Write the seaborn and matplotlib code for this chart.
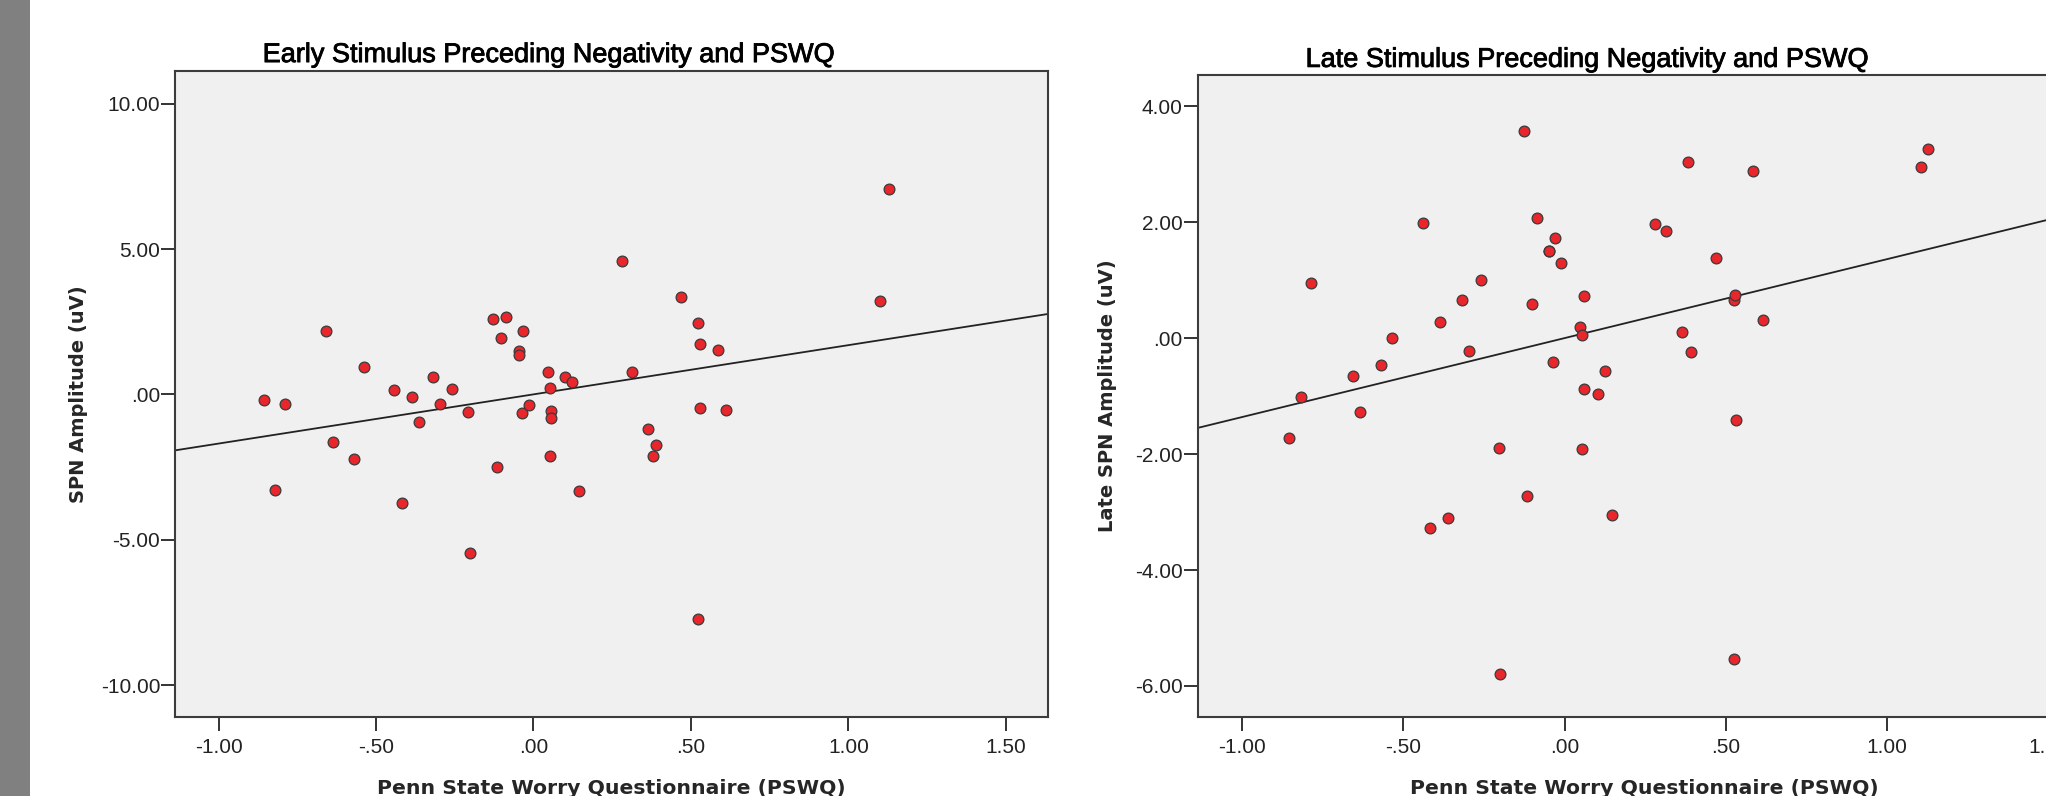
import matplotlib
matplotlib.use("Agg")
import matplotlib.pyplot as plt
import matplotlib.patheffects as pe
import seaborn as sns
import pandas as pd
from matplotlib.patches import Rectangle
from matplotlib.ticker import FixedLocator, FixedFormatter

# --- datos ---
pswq_early = [-0.857, -0.821, -0.789, -0.660, -0.638, -0.570, -0.538, -0.443, -0.419, -0.387,
              -0.364, -0.319, -0.298, -0.260, -0.209, -0.202, -0.128, -0.117, -0.104, -0.087,
              -0.047, -0.047, -0.036, -0.032, -0.013, 0.047, 0.051, 0.051, 0.055, 0.057,
              0.100, 0.123, 0.145, 0.281, 0.313, 0.364, 0.381, 0.389, 0.468, 0.521,
              0.523, 0.528, 0.530, 0.585, 0.613, 1.102, 1.128]
spn_early = [-0.19, -3.29, -0.31, 2.17, -1.63, -2.22, 0.96, 0.14, -3.74, -0.10,
             -0.94, 0.61, -0.31, 0.19, -0.61, -5.47, 2.60, -2.50, 1.96, 2.66,
             1.50, 1.35, -0.65, 2.17, -0.35, 0.77, 0.23, -2.13, -0.56, -0.82,
             0.59, 0.42, -3.32, 4.60, 0.79, -1.19, -2.12, -1.73, 3.34, -7.71,
             2.45, -0.47, 1.75, 1.52, -0.54, 3.23, 7.06]

pswq_late = [-0.854, -0.817, -0.787, -0.657, -0.636, -0.569, -0.535, -0.439, -0.417, -0.386,
             -0.362, -0.317, -0.297, -0.258, -0.205, -0.201, -0.126, -0.116, -0.102, -0.087,
             -0.047, -0.047, -0.035, -0.030, -0.012, 0.049, 0.053, 0.055, 0.059, 0.061,
             0.102, 0.126, 0.146, 0.281, 0.315, 0.364, 0.382, 0.392, 0.470, 0.524,
             0.524, 0.528, 0.530, 0.585, 0.614, 1.104, 1.128]
spn_late = [-1.73, -1.01, 0.945, -0.65, -1.28, -0.47, 0.01, 1.98, -3.28, 0.28,
            -3.10, 0.665, -0.23, 1.01, -1.90, -5.79, 3.58, -2.73, 0.58, 2.07,
            1.50, 1.50, -0.41, 1.72, 1.30, 0.20, -1.91, 0.06, -0.875, 0.72,
            -0.97, -0.57, -3.05, 1.96, 1.85, 0.11, 3.03, -0.245, 1.39, 0.65,
            -5.54, 0.74, -1.42, 2.89, 0.315, 2.95, 3.26]

x_ticks = [-1.0, -0.5, 0.0, 0.5, 1.0, 1.5]
x_tick_labels = ["-1.00", "-.50", ".00", ".50", "1.00", "1.50"]
early_ticks = [-10, -5, 0, 5, 10]
early_tick_labels = ["-10.00", "-5.00", ".00", "5.00", "10.00"]
late_ticks = [-6, -4, -2, 0, 2, 4]
late_tick_labels = ["-6.00", "-4.00", "-2.00", ".00", "2.00", "4.00"]

titulos = ["Early Stimulus Preceding Negativity and PSWQ",
           "Late Stimulus Preceding Negativity and PSWQ"]
etiqueta_x = "Penn State Worry Questionnaire (PSWQ)"
etiquetas_y = ["SPN Amplitude (uV)", "Late SPN Amplitude (uV)"]

sns.set_style("white")
plt.rcParams['font.family'] = ['Liberation Sans', 'DejaVu Sans']

ROJO = "#e8262b"
BORDE = "#3a3a3a"
FONDO = "#f0f0f0"

fig = plt.figure(figsize=(20.46, 7.96), dpi=100)
fig.patches.append(Rectangle((0, 0), 30 / 2046, 1, transform=fig.transFigure,
                             facecolor="#808080", edgecolor="none", zorder=0))

ax1 = fig.add_axes([0.08573, 0.09887, 0.4265, 0.8118])
ax2 = fig.add_axes([0.58553, 0.09887, 0.43675, 0.8074])

paneles = [
    (ax1, pswq_early, spn_early, early_ticks, early_tick_labels, (-11.11, 11.13), 0, 0.4287, 1.014),
    (ax2, pswq_late, spn_late, late_ticks, late_tick_labels, (-6.54, 4.545), 1, 0.4362, 1.012),
]

for ax, xs, ys, yt, ytl, ylim, i, tx, ty in paneles:
    df = pd.DataFrame({"pswq": xs, "spn": ys})
    ax.set_facecolor(FONDO)
    ax.set_xlim(-1.137, 1.634)
    ax.set_ylim(*ylim)
    sns.regplot(data=df, x="pswq", y="spn", ax=ax, ci=None, truncate=False,
                scatter_kws={"s": 60, "color": ROJO, "edgecolors": BORDE,
                             "linewidths": 0.9, "alpha": 1, "zorder": 3},
                line_kws={"color": "#222222", "lw": 1.3, "zorder": 2})
    ax.set_xlim(-1.137, 1.634)
    ax.set_ylim(*ylim)

    ax.xaxis.set_major_locator(FixedLocator(x_ticks))
    ax.xaxis.set_major_formatter(FixedFormatter(x_tick_labels))
    ax.yaxis.set_major_locator(FixedLocator(yt))
    ax.yaxis.set_major_formatter(FixedFormatter(ytl))
    ax.tick_params(axis="both", direction="out", length=10, width=1.4, color="#333333",
                   labelsize=15, labelcolor="#222222")
    ax.tick_params(axis="y", pad=1)
    ax.tick_params(axis="x", pad=5)
    ax.tick_params(left=True, bottom=True)

    for sp in ax.spines.values():
        sp.set_color("#3c3c3c")
        sp.set_linewidth(1.5)
        sp.set_visible(True)

    t = ax.set_title(titulos[i], fontsize=19.5, x=tx, y=ty, pad=0, color="#000000")
    t.set_path_effects([pe.withStroke(linewidth=0.6, foreground="#000000")])
    ax.set_xlabel(etiqueta_x, fontsize=14.7, fontweight="bold", family="DejaVu Sans")
    ax.set_ylabel(etiquetas_y[i], fontsize=14, fontweight="bold", family="DejaVu Sans")

ax1.xaxis.set_label_coords(0.5, -0.0955)
ax2.xaxis.set_label_coords(0.5, -0.096)
ax1.yaxis.set_label_coords(-0.1002, 0.5)
ax2.yaxis.set_label_coords(-0.0906, 0.5)

fig.savefig("out.png", dpi=100)
